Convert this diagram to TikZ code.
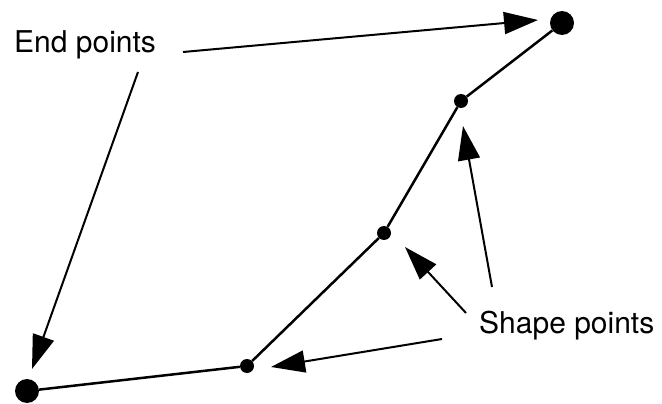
\documentclass[tikz,border=0pt]{standalone}
\usepackage{fontspec}
\setmainfont{TeX Gyre Heros}
\usetikzlibrary{arrows.meta}
\begin{document}
\begin{tikzpicture}[x=1pt,y=-1pt,
  bigdot/.style={circle,fill=black,inner sep=0pt,minimum size=24pt},
  smalldot/.style={circle,fill=black,inner sep=0pt,minimum size=14pt},
  polyline/.style={line width=2.5pt},
  pointer/.style={line width=2pt,-{Triangle[length=34pt,width=22pt]}},
  lbl/.style={font=\fontsize{30}{32}\selectfont,inner sep=0pt,anchor=base west}]
\useasboundingbox (0,0) rectangle (662,404);
% points
\node[bigdot] (e1) at (562,23) {};
\node[smalldot] (s1) at (461,101) {};
\node[smalldot] (s2) at (384,233) {};
\node[smalldot] (s3) at (247,366) {};
\node[bigdot] (e2) at (27,391) {};
\draw[polyline] (e1) -- (s1) -- (s2) -- (s3) -- (e2);
% labels
\node[lbl] (endl) at (14,53) {End points};
\node[lbl] (shapel) at (479,333) {Shape points};
% arrow coordinates
\coordinate (a1s) at (183,52);
\coordinate (a1t) at (538,20);
\coordinate (a2s) at (138,72);
\coordinate (a2t) at (32,369);
\coordinate (a3s) at (492,287);
\coordinate (a3t) at (463,126);
\coordinate (a4s) at (466,313);
\coordinate (a4t) at (405,247);
\coordinate (a5s) at (442,339);
\coordinate (a5t) at (271,367);
\draw[pointer] (a1s) -- (a1t);
\draw[pointer] (a2s) -- (a2t);
\draw[pointer] (a3s) -- (a3t);
\draw[pointer] (a4s) -- (a4t);
\draw[pointer] (a5s) -- (a5t);
\end{tikzpicture}
\end{document}
